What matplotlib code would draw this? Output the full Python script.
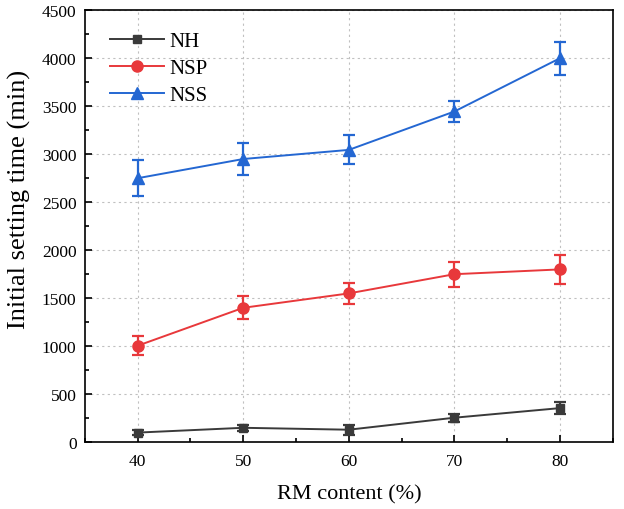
import numpy as np
import matplotlib
matplotlib.use('Agg')
import matplotlib.pyplot as plt
from matplotlib.ticker import MultipleLocator

plt.rcParams['font.family'] = ['Liberation Serif', 'DejaVu Serif']
plt.rcParams['mathtext.fontset'] = 'stix'

rm = [40, 50, 60, 70, 80]
nh = [100, 150, 130, 255, 355]
nh_err = [30, 30, 50, 40, 60]
nsp = [1005, 1400, 1550, 1750, 1800]
nsp_err = [100, 120, 110, 130, 150]
nss = [2750, 2950, 3045, 3445, 4000]
nss_err = [190, 170, 150, 110, 170]

fig = plt.figure(figsize=(6.24, 5.1), dpi=100)
ax = fig.add_axes([0.136, 0.131, 0.846, 0.847])

e1 = ax.errorbar(rm, nh, yerr=nh_err, color='#3a3a3a', marker='s', ms=6, lw=1.4,
                 capsize=4, elinewidth=1.6, capthick=1.6, zorder=3)
e2 = ax.errorbar(rm, nsp, yerr=nsp_err, color='#e8383b', marker='o', ms=8, lw=1.4,
                 capsize=4, elinewidth=1.6, capthick=1.6, zorder=3)
e3 = ax.errorbar(rm, nss, yerr=nss_err, color='#2467d2', marker='^', ms=8, lw=1.4,
                 capsize=4, elinewidth=1.6, capthick=1.6, zorder=3)

ax.set_xlim(35, 85)
ax.set_ylim(0, 4500)
ax.set_xticks(rm)
ax.xaxis.set_minor_locator(MultipleLocator(5))
ax.yaxis.set_major_locator(MultipleLocator(500))
ax.yaxis.set_minor_locator(MultipleLocator(250))
ax.tick_params(which='both', direction='in', top=False, right=False,
               labelsize=12.5, width=1.2)
ax.tick_params(axis='x', which='major', pad=8)
ax.tick_params(axis='y', which='major', pad=6)
ax.tick_params(which='major', length=5)
ax.tick_params(which='minor', length=3)
ax.grid(True, which='major', color='#c0c0c0', linestyle=(0, (2, 3)), lw=0.8)
ax.set_axisbelow(True)
for s in ax.spines.values():
    s.set_linewidth(1.2)

ax.set_xlabel('RM content (%)', fontsize=16, labelpad=11)
ax.set_ylabel('Initial setting time (min)', fontsize=19)
ax.yaxis.set_label_coords(-0.102, 0.565)

ax.legend([e1[0], e2[0], e3[0]], ['NH', 'NSP', 'NSS'], loc='upper left',
          frameon=False, fontsize=15, handlelength=2.6, handletextpad=0.25,
          borderaxespad=0.3, labelspacing=0.36, bbox_to_anchor=(0.02, 0.985))

fig.savefig('out.png', dpi=100)
